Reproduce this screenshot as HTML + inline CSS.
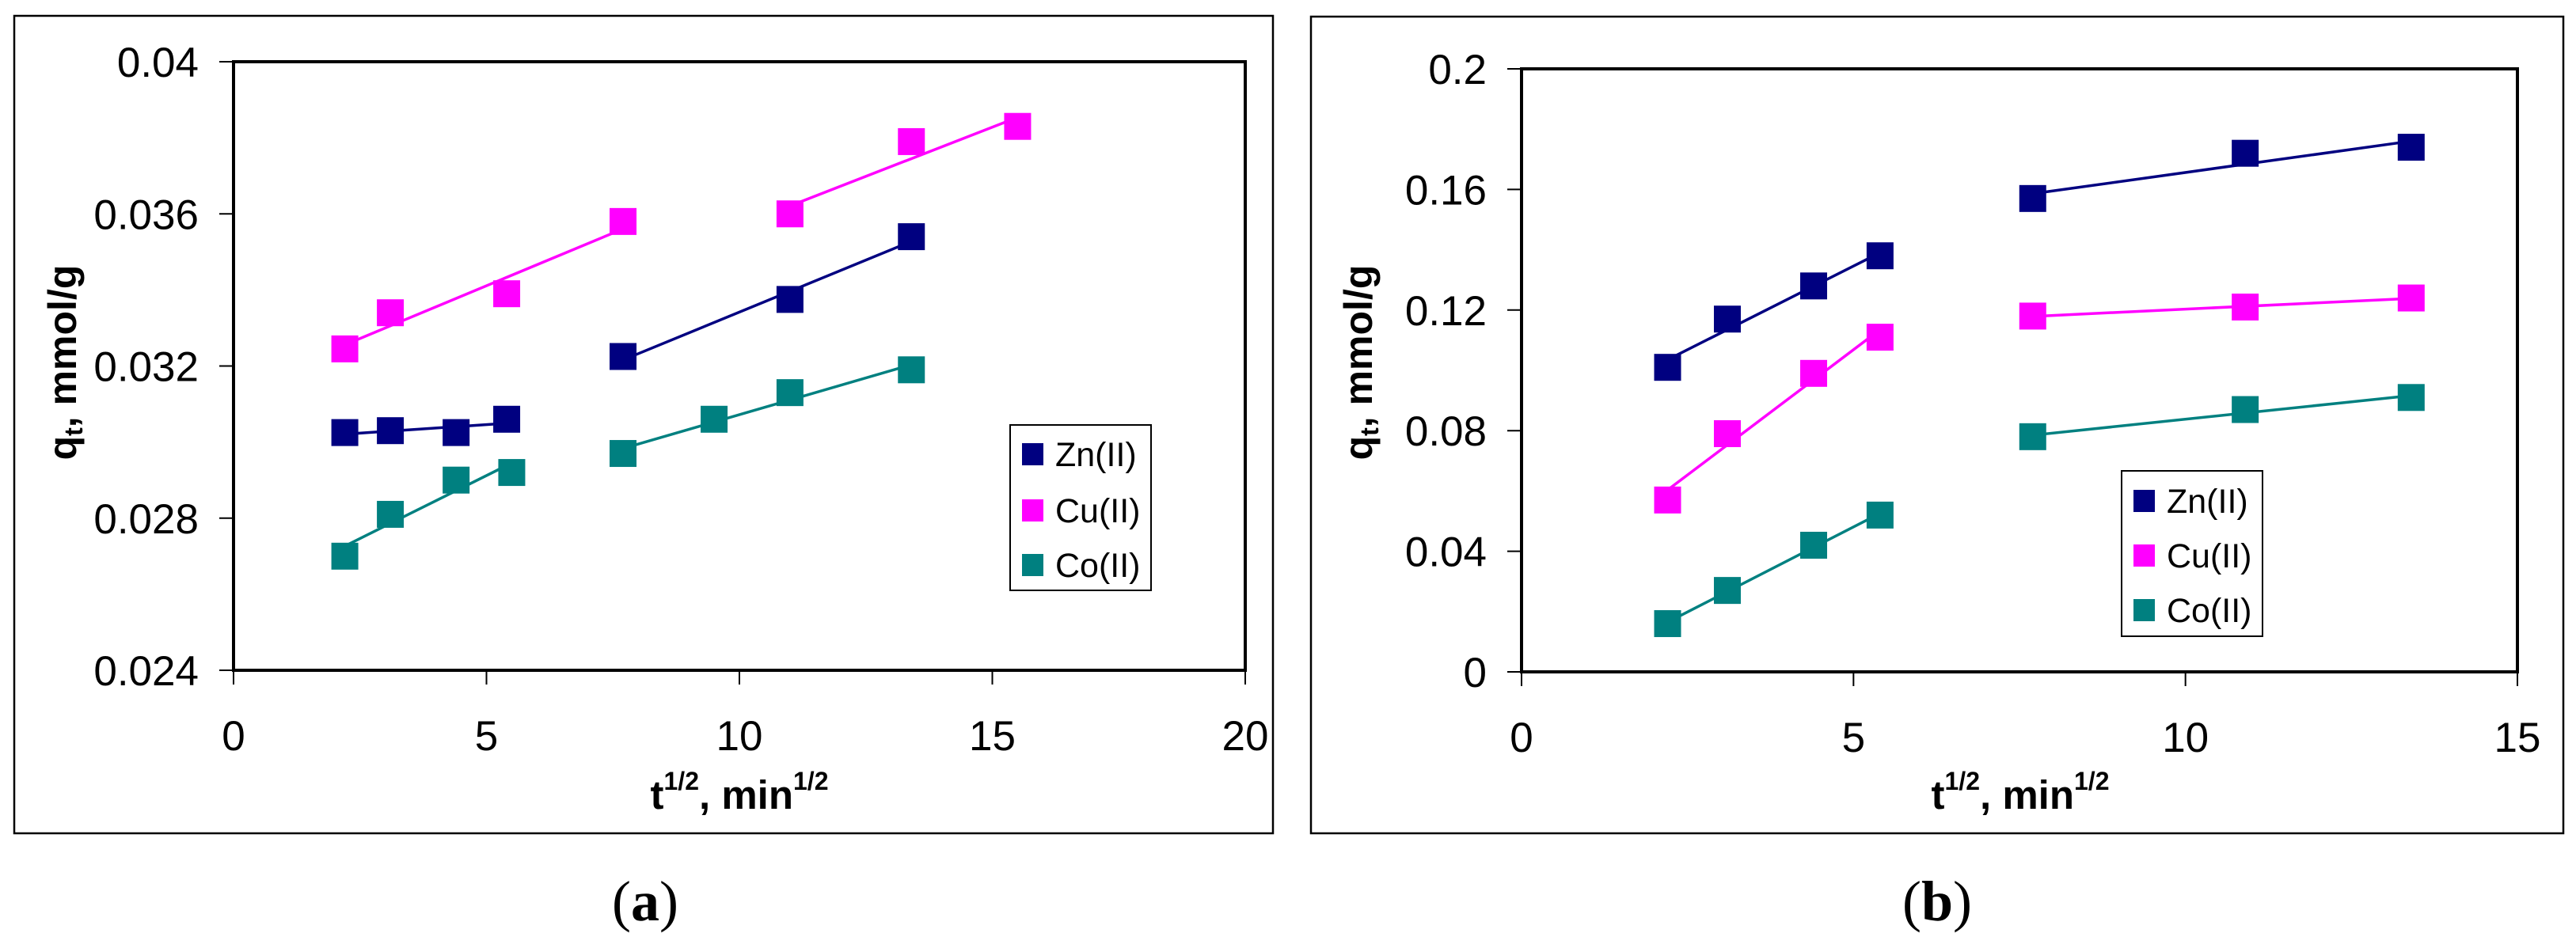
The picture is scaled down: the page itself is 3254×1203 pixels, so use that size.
<!DOCTYPE html>
<html><head><meta charset="utf-8"><style>
html,body{margin:0;padding:0;background:#fff;}
svg{display:block;}
text{font-family:"Liberation Sans",Arial,sans-serif;}
</style></head><body>
<svg id="fig" width="3254" height="1203" viewBox="0 0 3254 1203" xmlns="http://www.w3.org/2000/svg"></svg>
<script>
// Panel (a) data
const aZnX1=[2.2,3.1,4.4,5.4], aZnY1=[0.03025,0.0303,0.03025,0.0306];
const aZnX2=[7.7,11,13.4], aZnY2=[0.03225,0.03375,0.0354];
const aCuX1=[2.2,3.1,5.4,7.7], aCuY1=[0.03245,0.0334,0.0339,0.0358];
const aCuX2=[11,13.4,15.5], aCuY2=[0.036,0.0379,0.0383];
const aCoX1=[2.2,3.1,4.4,5.5], aCoY1=[0.0270,0.0281,0.0290,0.0292];
const aCoX2=[7.7,9.5,11,13.4], aCoY2=[0.0297,0.0306,0.0313,0.0319];
const aXTicks=[0,5,10,15,20];
const aYTicks=[0.024,0.028,0.032,0.036,0.04];
const aYLabels=["0.024","0.028","0.032","0.036","0.04"];
// Panel (b) data
const bZnX1=[2.2,3.1,4.4,5.4], bZnY1=[0.101,0.117,0.128,0.138];
const bZnX2=[7.7,10.9,13.4], bZnY2=[0.157,0.172,0.174];
const bCuX1=[2.2,3.1,4.4,5.4], bCuY1=[0.057,0.079,0.099,0.111];
const bCuX2=[7.7,10.9,13.4], bCuY2=[0.118,0.121,0.124];
const bCoX1=[2.2,3.1,4.4,5.4], bCoY1=[0.016,0.027,0.042,0.052];
const bCoX2=[7.7,10.9,13.4], bCoY2=[0.078,0.087,0.091];
const bXTicks=[0,5,10,15];
const bYTicks=[0,0.04,0.08,0.12,0.16,0.2];
const bYLabels=["0","0.04","0.08","0.12","0.16","0.2"];
const seriesNames=["Zn(II)","Cu(II)","Co(II)"];
const seriesColors=["#000080","#FF00FF","#008080"];

const NS="http://www.w3.org/2000/svg";
const svg=document.getElementById('fig');
function el(tag,attrs,parent,txt){const e=document.createElementNS(NS,tag);for(const k in attrs)e.setAttribute(k,attrs[k]);if(txt!==undefined)e.textContent=txt;(parent||svg).appendChild(e);return e;}
function fit(xs,ys){const n=xs.length;let sx=0,sy=0,sxx=0,sxy=0;for(let i=0;i<n;i++){sx+=xs[i];sy+=ys[i];sxx+=xs[i]*xs[i];sxy+=xs[i]*ys[i];}const m=(n*sxy-sx*sy)/(n*sxx-sx*sx);return [m,(sy-m*sx)/n];}

function panel(cfg){
  const g=el('g',{});
  
  
  const fr=el('rect',{x:cfg.frame[0],y:cfg.frame[1],width:cfg.frame[2]-cfg.frame[0],height:cfg.frame[3]-cfg.frame[1],fill:'none',stroke:'#000','stroke-width':2.5},g);
  
  
  const [L,T,R,B]=cfg.plot;
  const xs=v=>L+(v-cfg.xmin)/(cfg.xmax-cfg.xmin)*(R-L);
  const ys=v=>B-(v-cfg.ymin)/(cfg.ymax-cfg.ymin)*(B-T);
  const pa=el('rect',{x:L,y:T,width:R-L,height:B-T,fill:'#fff',stroke:'#000','stroke-width':4},g);
  
  
  cfg.yTicks.forEach((t,i)=>{
    const y=ys(t);
    el('line',{x1:L-18,y1:y,x2:L,y2:y,stroke:'#000','stroke-width':2},g);
    const tx=el('text',{x:L-44,y:y+19,'font-size':53,'text-anchor':'end'},g,cfg.yLabels[i]);
    
    
  });
  cfg.xTicks.forEach(t=>{
    const x=xs(t);
    el('line',{x1:x,y1:B,x2:x,y2:B+18,stroke:'#000','stroke-width':2},g);
    const tx=el('text',{x:x,y:B+101,'font-size':53,'text-anchor':'middle'},g,String(t));
    
    
  });
  cfg.series.forEach((segs,si)=>{
    segs.forEach(([X,Y])=>{
      const [m,c]=fit(X,Y);
      const x0=X[0],x1=X[X.length-1];
      const ln=el('line',{x1:xs(x0),y1:ys(m*x0+c),x2:xs(x1),y2:ys(m*x1+c),stroke:seriesColors[si],'stroke-width':3.5},g);
      
      
      X.forEach((xv,i)=>{
        const r=el('rect',{x:xs(xv)-17,y:ys(Y[i])-17,width:34,height:34,fill:seriesColors[si]},g);
        
        
      });
    });
  });
  const [lx0,ly0,lx1,ly1]=cfg.legend;
  const lg=el('g',{},g);
  
  
  el('rect',{x:lx0,y:ly0,width:lx1-lx0,height:ly1-ly0,fill:'#fff',stroke:'#000','stroke-width':2},lg);
  seriesNames.forEach((n,i)=>{
    const cy=cfg.legendY[i];
    el('rect',{x:lx0+15,y:cy-14,width:27,height:28,fill:seriesColors[i]},lg);
    const t=el('text',{x:lx0+57,y:cy+15,'font-size':43},lg,n);
    
    
  });
  const xt=el('text',{x:cfg.xTitleX,y:1022,'font-size':51,'font-weight':'bold','text-anchor':'middle'},g);
  
  
  xt.innerHTML='t<tspan font-size="32" dy="-24">1/2</tspan><tspan dy="24">, min</tspan><tspan font-size="32" dy="-24">1/2</tspan>';
  const yt=el('text',{x:0,y:0,'font-size':50,'font-weight':'bold','text-anchor':'middle',transform:`translate(${cfg.yTitleX},${cfg.yTitleY}) rotate(-90)`},g);
  
  
  yt.innerHTML='q<tspan font-size="32" dy="8">t</tspan><tspan dy="-8">, mmol/g</tspan>';
  const cap=el('text',{x:cfg.capX,y:1163,'font-size':72,'text-anchor':'middle',style:'font-family:"Liberation Serif",serif'},g);
  
  
  cap.innerHTML='(<tspan font-weight="bold">'+cfg.cap+'</tspan>)';
}

panel({name:'panel-a',frame:[18,20,1608,1053],plot:[295,78,1573,847],xmin:0,xmax:20,ymin:0.024,ymax:0.04,
  xTicks:aXTicks,yTicks:aYTicks,yLabels:aYLabels,
  series:[[[aZnX1,aZnY1],[aZnX2,aZnY2]],[[aCuX1,aCuY1],[aCuX2,aCuY2]],[[aCoX1,aCoY1],[aCoX2,aCoY2]]],
  legend:[1276,537,1454,746],legendY:[574,645,714],xTitleX:934,yTitleX:96,yTitleY:458,capX:815,cap:'a'});
panel({name:'panel-b',frame:[1656,21,3238,1053],plot:[1922,87,3180,849],xmin:0,xmax:15,ymin:0,ymax:0.2,
  xTicks:bXTicks,yTicks:bYTicks,yLabels:bYLabels,
  series:[[[bZnX1,bZnY1],[bZnX2,bZnY2]],[[bCuX1,bCuY1],[bCuX2,bCuY2]],[[bCoX1,bCoY1],[bCoX2,bCoY2]]],
  legend:[2680,595,2858,804],legendY:[633,702,771],xTitleX:2552,yTitleX:1733,yTitleY:458,capX:2447,cap:'b'});
</script>
</body></html>
